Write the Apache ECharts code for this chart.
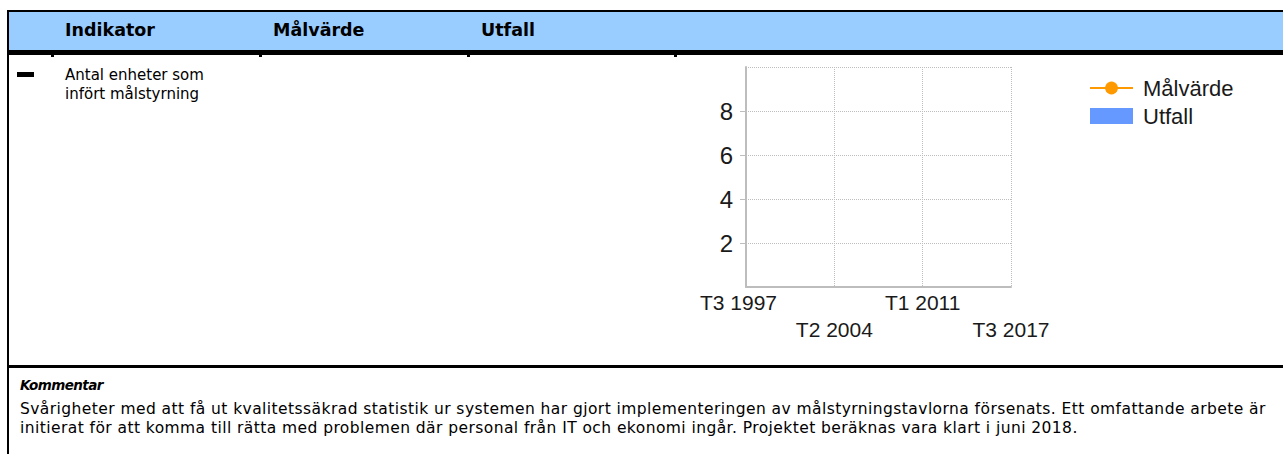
<!DOCTYPE html>
<html><head><meta charset="utf-8">
<script src="https://cdn.jsdelivr.net/npm/echarts@6/dist/echarts.min.js"></script>
<style>
html,body{margin:0;padding:0;background:#fff;width:1283px;height:454px;overflow:hidden;position:relative;font-family:"DejaVu Sans",Verdana,sans-serif;color:#000;}
.abs{position:absolute;}
#topline{left:7px;top:10px;width:1290px;height:2px;background:#000;}
#band{left:9px;top:12px;width:1290px;height:38px;background:#99CCFF;}
#thick{left:7px;top:50px;width:1290px;height:5px;background:#000;}
#leftline{left:7px;top:10px;width:2px;height:460px;background:#000;}
.tick{top:55px;width:3px;height:2px;background:#000;}
.hdr{top:20px;font-weight:bold;font-size:17.5px;line-height:21px;white-space:nowrap;}
#dash{left:17px;top:72px;width:17px;height:5px;background:#000;}
#rowtext{left:65px;top:66px;font-size:15px;line-height:19px;white-space:nowrap;}
#sep{left:7px;top:365px;width:1290px;height:3px;background:#000;}
#komm{left:20px;top:376px;font-size:13.5px;letter-spacing:-0.6px;font-weight:bold;font-style:italic;line-height:18px;white-space:nowrap;}
#para{left:20px;top:400px;font-size:15.5px;letter-spacing:0.43px;line-height:19px;white-space:nowrap;}
#chart{left:680px;top:55px;width:603px;height:305px;}
</style>
</head>
<body>
<div class="abs" id="band"></div>
<div class="abs" id="topline"></div>
<div class="abs" id="thick"></div>
<div class="abs" id="leftline"></div>
<div class="abs tick" style="left:51px"></div>
<div class="abs tick" style="left:259px"></div>
<div class="abs tick" style="left:467px"></div>
<div class="abs tick" style="left:674px"></div>
<div class="abs hdr" id="h1" style="left:65px"></div>
<div class="abs hdr" id="h2" style="left:273px"></div>
<div class="abs hdr" id="h3" style="left:481px"></div>
<div class="abs" id="dash"></div>
<div class="abs" id="rowtext"></div>
<div class="abs" id="sep"></div>
<div class="abs" id="komm"></div>
<div class="abs" id="para"></div>
<div class="abs" id="chart"></div>
<script>
// ---- texts ----
const headers = ["Indikator", "Målvärde", "Utfall"];
const indicatorLines = ["Antal enheter som", "infört målstyrning"];
const commentTitle = "Kommentar";
const commentLines = [
  "Svårigheter med att få ut kvalitetssäkrad statistik ur systemen har gjort implementeringen av målstyrningstavlorna försenats. Ett omfattande arbete är",
  "initierat för att komma till rätta med problemen där personal från IT och ekonomi ingår. Projektet beräknas vara klart i juni 2018."
];

// ---- chart data ----
const categories = [
  "T3 1997",
  "T1 1998","T2 1998","T3 1998",
  "T1 1999","T2 1999","T3 1999",
  "T1 2000","T2 2000","T3 2000",
  "T1 2001","T2 2001","T3 2001",
  "T1 2002","T2 2002","T3 2002",
  "T1 2003","T2 2003","T3 2003",
  "T1 2004","T2 2004","T3 2004",
  "T1 2005","T2 2005","T3 2005",
  "T1 2006","T2 2006","T3 2006",
  "T1 2007","T2 2007","T3 2007",
  "T1 2008","T2 2008","T3 2008",
  "T1 2009","T2 2009","T3 2009",
  "T1 2010","T2 2010","T3 2010",
  "T1 2011","T2 2011","T3 2011",
  "T1 2012","T2 2012","T3 2012",
  "T1 2013","T2 2013","T3 2013",
  "T1 2014","T2 2014","T3 2014",
  "T1 2015","T2 2015","T3 2015",
  "T1 2016","T2 2016","T3 2016",
  "T1 2017","T2 2017","T3 2017"
];
const seriesNames = ["Målvärde", "Utfall"];
const malvarde = [];   // no target values reported
const utfall = [];     // no outcome values reported
const yMin = 0, yMax = 10, yStep = 2;

// ---- fill texts ----
document.getElementById('h1').textContent = headers[0];
document.getElementById('h2').textContent = headers[1];
document.getElementById('h3').textContent = headers[2];
document.getElementById('rowtext').innerHTML = indicatorLines.join('<br>');
document.getElementById('komm').textContent = commentTitle;
document.getElementById('para').innerHTML = commentLines.join('<br>');

// ---- chart ----
const chart = echarts.init(document.getElementById('chart'), null, {renderer: 'svg'});
const txt = '#1a1a1a';
const grey = '#bdbdbd';
chart.setOption({
  animation: false,
  legend: {
    orient: 'vertical', left: 404, top: 17,
    itemWidth: 43, itemHeight: 16, itemGap: 6,
    textStyle: {fontFamily: 'Liberation Sans', fontSize: 22, color: txt, padding: [0,0,0,5]},
    data: [{name: seriesNames[0]}, {name: seriesNames[1], icon: 'rect'}]
  },
  grid: {left: 66, top: 12, width: 265, height: 220},
  xAxis: {
    type: 'category', data: categories, boundaryGap: false,
    axisLine: {lineStyle: {color: grey, width: 2}},
    axisTick: {show: false},
    axisLabel: {
      interval: 19, margin: 2, fontFamily: 'Liberation Sans', fontSize: 21, lineHeight: 27, color: txt,
      formatter: (v, i) => i === 0 ? '{first|' + v + '}' : (i % 40 === 20 ? '\n' : '') + v,
      rich: {first: {fontFamily: 'Liberation Sans', fontSize: 21, lineHeight: 27, color: txt, padding: [0, 15, 0, 0]}}
    },
    splitLine: {show: true, interval: 19, lineStyle: {type: 'dotted', color: grey}}
  },
  yAxis: {
    type: 'value', min: yMin, max: yMax, interval: yStep,
    axisLine: {show: true, lineStyle: {color: grey, width: 2}},
    axisTick: {show: true, length: 6, lineStyle: {color: grey}},
    axisLabel: {margin: 13, fontSize: 24, fontFamily: 'Liberation Sans', color: txt, showMinLabel: false, showMaxLabel: false},
    splitLine: {lineStyle: {type: 'dotted', color: grey}}
  },
  series: [
    {name: seriesNames[0], type: 'line', data: malvarde, color: '#FF9900', symbol: 'circle', symbolSize: 8, lineStyle: {width: 3}},
    {name: seriesNames[1], type: 'bar', data: utfall, color: '#6699FF'}
  ]
});
</script>
</body></html>
